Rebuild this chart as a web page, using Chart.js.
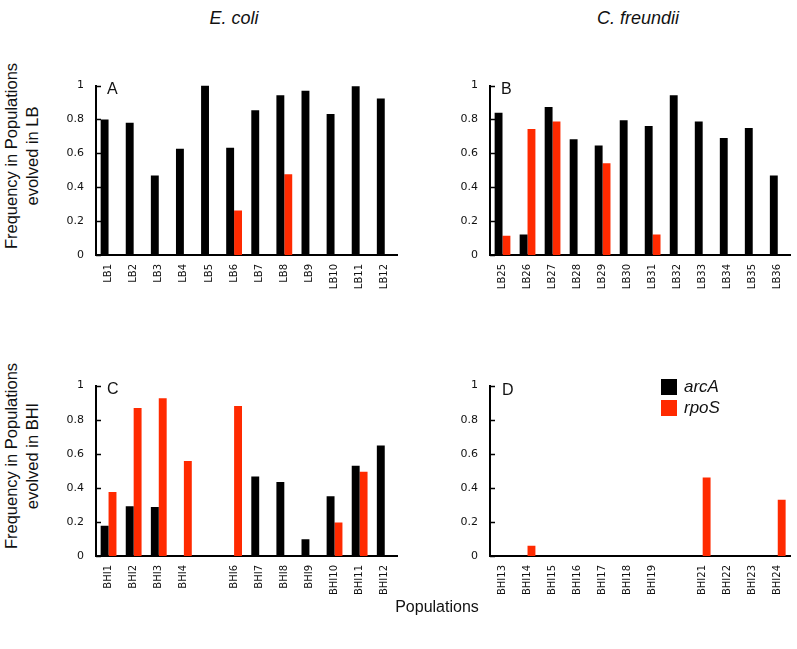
<!DOCTYPE html>
<html>
<head>
<meta charset="utf-8">
<script src="https://cdn.jsdelivr.net/npm/chart.js@4.4.0/dist/chart.umd.min.js"></script>
<style>
  body { margin: 0; background: #fff; }
  #wrap { position: relative; width: 797px; height: 649px; overflow: hidden; background: #fff;
          font-family: "Liberation Sans", Arial, sans-serif; color: #111; }
  #wrap canvas { position: absolute; }
  .txt { position: absolute; white-space: nowrap; }
  .species { font-size: 18px; font-style: italic; transform: translate(-50%, -50%); }
  .ytitle { font-size: 16.5px; line-height: 21px; text-align: center; width: 260px;
            transform: translate(-50%, -50%) rotate(-90deg); }
  .panel { font-size: 16px; }
  .key { position: absolute; width: 16px; height: 16px; }
  .keytxt { font-size: 17px; font-style: italic; }
</style>
</head>
<body>
<div id="wrap">
  <canvas id="chartA"></canvas>
  <canvas id="chartB"></canvas>
  <canvas id="chartC"></canvas>
  <canvas id="chartD"></canvas>

  <div class="txt species" style="left:234px; top:18px;">E. coli</div>
  <div class="txt species" style="left:638px; top:18px;">C. freundii</div>
  <div class="txt ytitle" style="left:22px; top:156px;">Frequency in Populations<br>evolved in LB</div>
  <div class="txt ytitle" style="left:22px; top:456px;">Frequency in Populations<br>evolved in BHI</div>
  <div class="txt" style="left:437px; top:607px; font-size:16px; transform: translate(-50%, -50%);">Populations</div>

  <div class="txt panel" style="left:107px; top:80px;">A</div>
  <div class="txt panel" style="left:501px; top:80px;">B</div>
  <div class="txt panel" style="left:107px; top:380px;">C</div>
  <div class="txt panel" style="left:502px; top:381px;">D</div>

  <div class="key" style="left:661px; top:379px; background:#000;"></div>
  <div class="key" style="left:661px; top:400px; background:#ff2a00;"></div>
  <div class="txt keytxt" style="left:684px; top:377px;">arcA</div>
  <div class="txt keytxt" style="left:684px; top:398px;">rpoS</div>
</div>

<script>
// E. coli, evolved in LB
const lbEcoliLabels = ['LB1', 'LB2', 'LB3', 'LB4', 'LB5', 'LB6', 'LB7', 'LB8', 'LB9', 'LB10', 'LB11', 'LB12'];
const lbEcoliArcA = [0.80, 0.78, 0.47, 0.627, 1.0, 0.633, 0.854, 0.943, 0.97, 0.833, 0.996, 0.924];
const lbEcoliRpoS = [0, 0, 0, 0, 0, 0.263, 0, 0.477, 0, 0, 0, 0];

// C. freundii, evolved in LB
const lbCitroLabels = ['LB25', 'LB26', 'LB27', 'LB28', 'LB29', 'LB30', 'LB31', 'LB32', 'LB33', 'LB34', 'LB35', 'LB36'];
const lbCitroArcA = [0.839, 0.121, 0.873, 0.684, 0.646, 0.795, 0.761, 0.943, 0.788, 0.691, 0.75, 0.47];
const lbCitroRpoS = [0.114, 0.744, 0.788, 0, 0.542, 0, 0.121, 0, 0, 0, 0, 0];

// E. coli, evolved in BHI (no BHI5)
const bhiEcoliLabels = ['BHI1', 'BHI2', 'BHI3', 'BHI4', '', 'BHI6', 'BHI7', 'BHI8', 'BHI9', 'BHI10', 'BHI11', 'BHI12'];
const bhiEcoliArcA = [0.177, 0.292, 0.287, 0, null, 0, 0.466, 0.434, 0.098, 0.351, 0.53, 0.649];
const bhiEcoliRpoS = [0.375, 0.868, 0.926, 0.557, null, 0.881, 0, 0, 0, 0.196, 0.494, 0];

// C. freundii, evolved in BHI (no BHI20)
const bhiCitroLabels = ['BHI13', 'BHI14', 'BHI15', 'BHI16', 'BHI17', 'BHI18', 'BHI19', '', 'BHI21', 'BHI22', 'BHI23', 'BHI24'];
const bhiCitroArcA = [0, 0, 0, 0, 0, 0, 0, null, 0, 0, 0, 0];
const bhiCitroRpoS = [0, 0.06, 0, 0, 0, 0, 0, null, 0.46, 0, 0, 0.33];

const yTicks = [0, 0.2, 0.4, 0.6, 0.8, 1];
const yTickLabels = ['0', '0.2', '0.4', '0.6', '0.8', '1'];

const RED = '#ff2a00';
const AXIS_W = 45;   // room for y tick labels
const XAXIS_H = 60;  // room for rotated x labels
const PAD_TOP = 12;
const PAD_RIGHT = 6;

// short tick marks pointing into the plot, like the original
const innerTicks = {
  id: 'innerTicks',
  afterDraw(chart) {
    const { ctx, chartArea, scales: { y } } = chart;
    ctx.save();
    ctx.strokeStyle = '#000';
    ctx.lineWidth = 1.5;
    y.ticks.forEach((t) => {
      const py = Math.round(y.getPixelForValue(t.value)) + 0.5;
      ctx.beginPath();
      ctx.moveTo(chartArea.left, py);
      ctx.lineTo(chartArea.left + 5, py);
      ctx.stroke();
    });
    ctx.restore();
  }
};

function makePanel(id, box, labels, arcA, rpoS) {
  const canvas = document.getElementById(id);
  const w = box.right - box.left + AXIS_W + PAD_RIGHT;
  const h = box.bottom - box.top + PAD_TOP + XAXIS_H;
  canvas.width = w;
  canvas.height = h;
  canvas.style.width = w + 'px';
  canvas.style.height = h + 'px';
  canvas.style.left = (box.left - AXIS_W) + 'px';
  canvas.style.top = (box.top - PAD_TOP) + 'px';

  return new Chart(canvas, {
    type: 'bar',
    data: {
      labels: labels,
      datasets: [
        { label: 'arcA', data: arcA, backgroundColor: '#000', categoryPercentage: 0.63, barPercentage: 1 },
        { label: 'rpoS', data: rpoS, backgroundColor: RED, categoryPercentage: 0.63, barPercentage: 1 },
      ],
    },
    options: {
      responsive: false,
      animation: false,
      layout: { padding: { top: PAD_TOP, right: PAD_RIGHT, left: 0, bottom: 0 } },
      plugins: { legend: { display: false }, tooltip: { enabled: false } },
      scales: {
        x: {
          grid: { display: false, drawTicks: false },
          border: { display: true, color: '#000', width: 2 },
          ticks: {
            autoSkip: false, maxRotation: 90, minRotation: 90, padding: 9,
            color: '#111', font: { family: 'DejaVu Sans', size: 10 },
          },
          afterFit: (s) => { s.height = XAXIS_H; },
        },
        y: {
          min: 0,
          max: 1,
          grid: { display: false, drawTicks: false },
          border: { display: true, color: '#000', width: 2 },
          afterBuildTicks: (s) => { s.ticks = yTicks.map((v) => ({ value: v })); },
          ticks: {
            padding: 12, color: '#111', font: { family: 'DejaVu Sans', size: 11 },
            callback: (v, i) => yTickLabels[i],
          },
          afterFit: (s) => { s.width = AXIS_W; },
        },
      },
    },
    plugins: [innerTicks],
  });
}

makePanel('chartA', { left: 96, top: 79, right: 400, bottom: 255 }, lbEcoliLabels, lbEcoliArcA, lbEcoliRpoS);
makePanel('chartB', { left: 490, top: 79, right: 793, bottom: 255 }, lbCitroLabels, lbCitroArcA, lbCitroRpoS);
makePanel('chartC', { left: 96, top: 379, right: 400, bottom: 556 }, bhiEcoliLabels, bhiEcoliArcA, bhiEcoliRpoS);
makePanel('chartD', { left: 490, top: 379, right: 793, bottom: 556 }, bhiCitroLabels, bhiCitroArcA, bhiCitroRpoS);
</script>
</body>
</html>
